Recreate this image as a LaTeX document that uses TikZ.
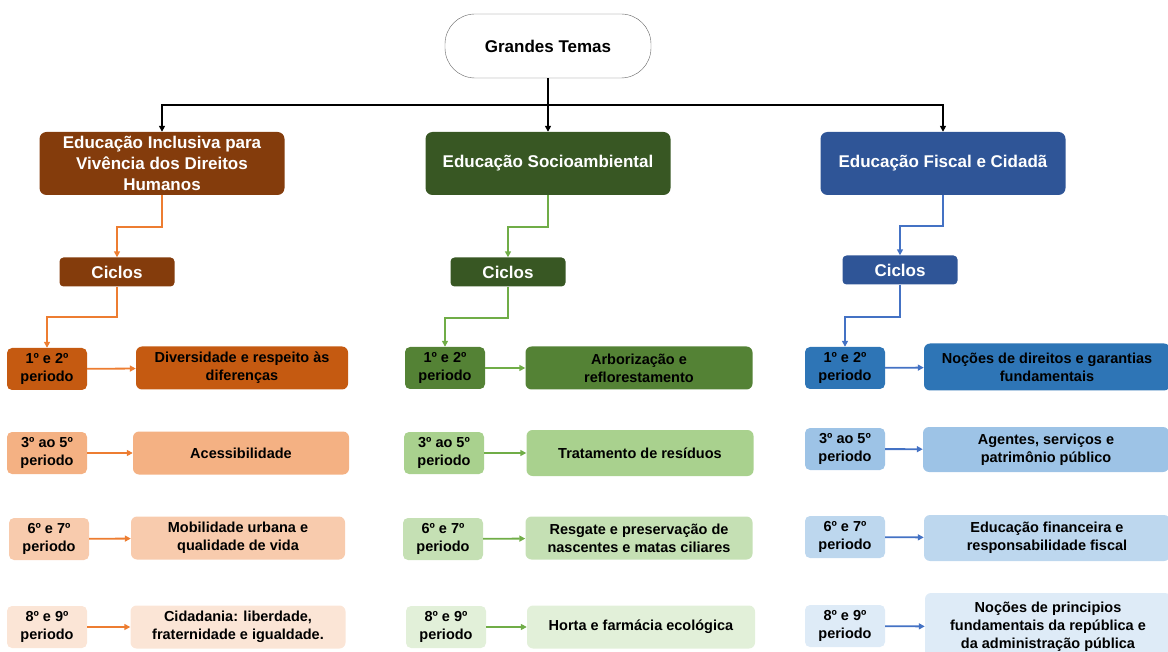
\documentclass[tikz,border=0pt]{standalone}
\usepackage{fontspec}
\setmainfont{Liberation Sans}
\usetikzlibrary{positioning, arrows.meta, calc}
\definecolor{IncDark}{HTML}{843C0C}
\definecolor{IncOne}{HTML}{C55A11}
\definecolor{IncTwo}{HTML}{F4B183}
\definecolor{IncThree}{HTML}{F8CBAD}
\definecolor{IncFour}{HTML}{FBE5D6}
\definecolor{IncLine}{HTML}{ED7D31}
\definecolor{SocDark}{HTML}{385723}
\definecolor{SocOne}{HTML}{548235}
\definecolor{SocTwo}{HTML}{A9D18E}
\definecolor{SocThree}{HTML}{C5E0B4}
\definecolor{SocFour}{HTML}{E2F0D9}
\definecolor{SocLine}{HTML}{70AD47}
\definecolor{FisDark}{HTML}{2F5597}
\definecolor{FisOne}{HTML}{2E75B6}
\definecolor{FisTwo}{HTML}{9DC3E6}
\definecolor{FisThree}{HTML}{BDD7EE}
\definecolor{FisFour}{HTML}{DEEBF7}
\definecolor{FisLine}{HTML}{4472C4}

\begin{document}
\begin{tikzpicture}[
    x=1pt, y=-1pt,
    rootbox/.style={rectangle, draw=black!60, fill=white, rounded corners=30pt, minimum width=206pt, minimum height=64pt, font=\bfseries\fontsize{17}{20}\selectfont},
    themebox/.style={rectangle, rounded corners=7pt, minimum width=245pt, minimum height=63pt, align=center, text=white, font=\bfseries\fontsize{17}{21}\selectfont},
    ciclobox/.style={rectangle, rounded corners=4pt, minimum width=115pt, minimum height=29pt, text=white, font=\bfseries\fontsize{17}{20}\selectfont},
    perbox/.style={rectangle, rounded corners=5pt, minimum width=80pt, minimum height=42pt, align=center, inner sep=1pt, font=\bfseries\fontsize{14.5}{18}\selectfont},
    contbox/.style={rectangle, rounded corners=6pt, minimum height=43pt, align=center, inner sep=1pt, font=\bfseries\fontsize{14.5}{18}\selectfont},
    bkarrow/.style={-{Triangle[length=6pt, width=6pt]}, line width=1.8pt, black},
    arrow/.style={-{Triangle[length=6pt, width=6pt]}, line width=1.8pt}
]
\useasboundingbox (0,0) rectangle (1168,652);

%%%%%%%%%%%%%%%%%%%%%%%%%%%%%%%%%%%%%%%%%%%%%%%%%%%%%%%%%%%%%%%%%%%
% Root and themes
%%%%%%%%%%%%%%%%%%%%%%%%%%%%%%%%%%%%%%%%%%%%%%%%%%%%%%%%%%%%%%%%%%%
\node[rootbox] (temas) at (548, 46) {Grandes Temas};

\node[themebox, fill=IncDark] (inclusiva) at (162, 163.5) {Educação Inclusiva para\\Vivência dos Direitos\\Humanos};
\node[themebox, fill=SocDark] (socio) at (548, 163.5) {Educação Socioambiental};
\node[themebox, fill=FisDark] (fiscal) at (943, 163.5) {Educação Fiscal e Cidadã};

% Ciclos
\node[ciclobox, fill=IncDark] (inc_ciclos) at (117, 272) {Ciclos};
\node[ciclobox, fill=SocDark] (soc_ciclos) at (508, 272) {Ciclos};
\node[ciclobox, fill=FisDark] (fis_ciclos) at (900, 270) {Ciclos};

%%%%%%%%%%%%%%%%%%%%%%%%%%%%%%%%%%%%%%%%%%%%%%%%%%%%%%%%%%%%%%%%%%%
% Educação Inclusiva (Left)
%%%%%%%%%%%%%%%%%%%%%%%%%%%%%%%%%%%%%%%%%%%%%%%%%%%%%%%%%%%%%%%%%%%
\node[perbox, fill=IncOne] (inc_per1) at (47, 369) {1º e 2º\\periodo};
\node[perbox, fill=IncTwo] (inc_per2) at (47, 453) {3º ao 5º\\periodo};
\node[perbox, fill=IncThree] (inc_per3) at (49, 539) {6º e 7º\\periodo};
\node[perbox, fill=IncFour] (inc_per4) at (47, 627) {8º e 9º\\periodo};

\node[contbox, fill=IncOne, minimum width=212pt] (inc_cont1) at (242, 368) {Diversidade e respeito às\\diferenças};
\node[contbox, fill=IncTwo, minimum width=216pt] (inc_cont2) at (241, 453) {Acessibilidade};
\node[contbox, fill=IncThree, minimum width=214pt] (inc_cont3) at (238, 538) {Mobilidade urbana e\\qualidade de vida};
\node[contbox, fill=IncFour, minimum width=215pt] (inc_cont4) at (238, 627) {Cidadania: liberdade,\\fraternidade e igualdade.};

%%%%%%%%%%%%%%%%%%%%%%%%%%%%%%%%%%%%%%%%%%%%%%%%%%%%%%%%%%%%%%%%%%%
% Educação Socioambiental (Middle)
%%%%%%%%%%%%%%%%%%%%%%%%%%%%%%%%%%%%%%%%%%%%%%%%%%%%%%%%%%%%%%%%%%%
\node[perbox, fill=SocOne] (soc_per1) at (445, 368) {1º e 2º\\periodo};
\node[perbox, fill=SocTwo] (soc_per2) at (444, 453) {3º ao 5º\\periodo};
\node[perbox, fill=SocThree] (soc_per3) at (443, 539) {6º e 7º\\periodo};
\node[perbox, fill=SocFour] (soc_per4) at (446, 627) {8º e 9º\\periodo};

\node[contbox, fill=SocOne, minimum width=227pt] (soc_cont1) at (639, 368) {Arborização e\\reflorestamento};
\node[contbox, fill=SocTwo, minimum width=227pt, minimum height=46pt] (soc_cont2) at (640, 453) {Tratamento de resíduos};
\node[contbox, fill=SocThree, minimum width=227pt] (soc_cont3) at (639, 538) {Resgate e preservação de\\nascentes e matas ciliares};
\node[contbox, fill=SocFour, minimum width=228pt] (soc_cont4) at (641, 627) {Horta e farmácia ecológica};

%%%%%%%%%%%%%%%%%%%%%%%%%%%%%%%%%%%%%%%%%%%%%%%%%%%%%%%%%%%%%%%%%%%
% Educação Fiscal (Right)
%%%%%%%%%%%%%%%%%%%%%%%%%%%%%%%%%%%%%%%%%%%%%%%%%%%%%%%%%%%%%%%%%%%
\node[perbox, fill=FisOne] (fis_per1) at (845, 368) {1º e 2º\\periodo};
\node[perbox, fill=FisTwo] (fis_per2) at (845, 449) {3º ao 5º\\periodo};
\node[perbox, fill=FisThree] (fis_per3) at (845, 537) {6º e 7º\\periodo};
\node[perbox, fill=FisFour] (fis_per4) at (845, 626) {8º e 9º\\periodo};

\node[contbox, fill=FisOne, minimum width=246pt, minimum height=47pt] (fis_cont1) at (1047, 367) {Noções de direitos e garantias\\fundamentais};
\node[contbox, fill=FisTwo, minimum width=246pt, minimum height=45pt] (fis_cont2) at (1046, 449.5) {Agentes, serviços e\\patrimônio público};
\node[contbox, fill=FisThree, minimum width=246pt, minimum height=46pt] (fis_cont3) at (1047, 538) {Educação financeira e\\responsabilidade fiscal};
\node[contbox, fill=FisFour, minimum width=246pt, minimum height=68pt] (fis_cont4) at (1048, 627) {Noções de principios\\fundamentais da república e\\da administração pública};

%%%%%%%%%%%%%%%%%%%%%%%%%%%%%%%%%%%%%%%%%%%%%%%%%%%%%%%%%%%%%%%%%%%
% Connections - Root
%%%%%%%%%%%%%%%%%%%%%%%%%%%%%%%%%%%%%%%%%%%%%%%%%%%%%%%%%%%%%%%%%%%
\draw[bkarrow] (temas.south) -- ++(0,27) -| (inclusiva.north);
\draw[bkarrow] (temas.south) -- (socio.north);
\draw[bkarrow] (temas.south) -- ++(0,27) -| (fiscal.north);

%%%%%%%%%%%%%%%%%%%%%%%%%%%%%%%%%%%%%%%%%%%%%%%%%%%%%%%%%%%%%%%%%%%
% Connections - Ciclos
%%%%%%%%%%%%%%%%%%%%%%%%%%%%%%%%%%%%%%%%%%%%%%%%%%%%%%%%%%%%%%%%%%%
\draw[arrow, IncLine] (inclusiva.south) -- ++(0,32) -| (inc_ciclos.north);
\draw[arrow, SocLine] (socio.south) -- ++(0,32) -| (soc_ciclos.north);
\draw[arrow, FisLine] (fiscal.south) -- ++(0,31) -| (fis_ciclos.north);

\draw[arrow, IncLine] (inc_ciclos.south) -- ++(0,30) -| (inc_per1.north);
\draw[arrow, SocLine] (soc_ciclos.south) -- ++(0,31) -| (soc_per1.north);
\draw[arrow, FisLine] (fis_ciclos.south) -- ++(0,32) -| (fis_per1.north);

%%%%%%%%%%%%%%%%%%%%%%%%%%%%%%%%%%%%%%%%%%%%%%%%%%%%%%%%%%%%%%%%%%%
% Connections - Periods
%%%%%%%%%%%%%%%%%%%%%%%%%%%%%%%%%%%%%%%%%%%%%%%%%%%%%%%%%%%%%%%%%%%
\draw[arrow, IncLine] (inc_per1) -- (inc_cont1);
\draw[arrow, IncLine] (inc_per2) -- (inc_cont2);
\draw[arrow, IncLine] (inc_per3) -- (inc_cont3);
\draw[arrow, IncLine] (inc_per4) -- (inc_cont4);

\draw[arrow, SocLine] (soc_per1) -- (soc_cont1);
\draw[arrow, SocLine] (soc_per2) -- (soc_cont2);
\draw[arrow, SocLine] (soc_per3) -- (soc_cont3);
\draw[arrow, SocLine] (soc_per4) -- (soc_cont4);

\draw[arrow, FisLine] (fis_per1) -- (fis_cont1);
\draw[arrow, FisLine] (fis_per2) -- (fis_cont2);
\draw[arrow, FisLine] (fis_per3) -- (fis_cont3);
\draw[arrow, FisLine] (fis_per4) -- (fis_cont4);

\end{tikzpicture}
\end{document}
